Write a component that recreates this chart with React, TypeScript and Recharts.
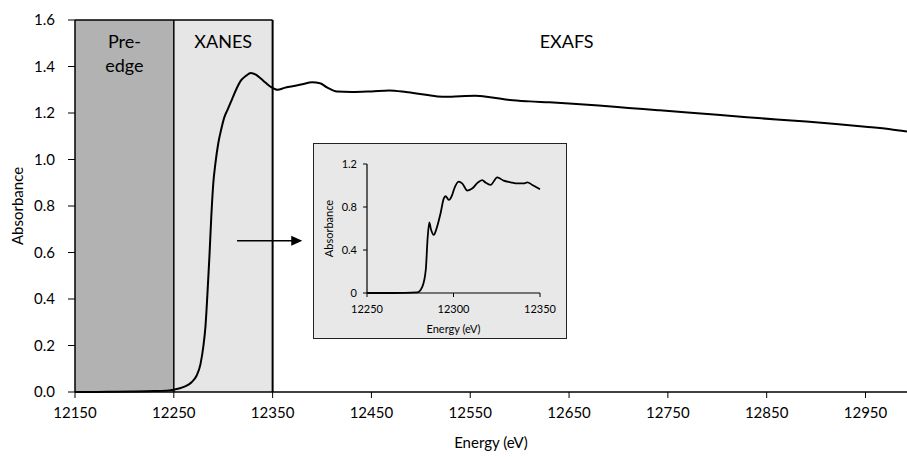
import {
  LineChart,
  Line,
  XAxis,
  YAxis,
  ReferenceArea,
  ReferenceLine,
} from "recharts";

// main spectrum
const mainEnergy = [
  12150, 12170, 12190, 12210, 12230, 12245, 12255, 12262, 12268, 12273,
  12277, 12280, 12282, 12284, 12286, 12288, 12290, 12292, 12295, 12298,
  12301, 12305, 12309, 12313, 12318, 12323, 12328, 12333, 12338, 12343,
  12348, 12355, 12362, 12370, 12380, 12390, 12398, 12405, 12415, 12430,
  12450, 12468, 12485, 12505, 12522, 12540, 12555, 12570, 12590, 12610,
  12630, 12650, 12680, 12710, 12740, 12770, 12800, 12830, 12860, 12890,
  12920, 12950, 12975, 12992,
];
const mainAbs = [
  0.0, 0.0, 0.001, 0.002, 0.004, 0.007, 0.015, 0.025, 0.042, 0.07,
  0.12, 0.2, 0.28, 0.42, 0.58, 0.76, 0.9, 0.98, 1.07, 1.13,
  1.18, 1.22, 1.26, 1.3, 1.34, 1.36, 1.372, 1.365, 1.348, 1.33,
  1.313, 1.3, 1.308, 1.315, 1.324, 1.332, 1.328, 1.31, 1.292, 1.29,
  1.293, 1.297, 1.29, 1.278, 1.27, 1.272, 1.274, 1.268, 1.256, 1.25,
  1.246, 1.241, 1.232, 1.222, 1.212, 1.202, 1.192, 1.182, 1.172, 1.163,
  1.153, 1.141, 1.13, 1.12,
];
const mainTicksX = [12150, 12250, 12350, 12450, 12550, 12650, 12750, 12850, 12950];
const mainTicksY = [0, 0.2, 0.4, 0.6, 0.8, 1.0, 1.2, 1.4, 1.6];

// inset (XANES close-up)
const insetEnergy = [
  12250, 12265, 12279, 12282, 12284, 12285, 12286, 12287, 12288.6, 12290,
  12292.5, 12294.4, 12295.4, 12297.3, 12299.2, 12300.2, 12303, 12305, 12308, 12311,
  12314, 12316.6, 12318.5, 12321.4, 12325.3, 12329, 12333, 12336, 12341, 12342.7,
  12345.6, 12350,
];
const insetAbs = [
  0, 0, 0.005, 0.06, 0.22, 0.5, 0.656, 0.59, 0.54, 0.59,
  0.74, 0.88, 0.9, 0.866, 0.91, 0.96, 1.036, 1.02, 0.953, 0.974,
  1.027, 1.05, 1.027, 1.005, 1.076, 1.045, 1.03, 1.02, 1.02, 1.03,
  1.005, 0.965,
];
const insetTicksX = [12250, 12300, 12350];
const insetTicksY = [0, 0.4, 0.8, 1.2];

const mainData = mainEnergy.map((e, i) => ({ e, a: mainAbs[i] }));
const insetData = insetEnergy.map((e, i) => ({ e, a: insetAbs[i] }));

const FONT = "Lato, 'Open Sans', sans-serif";

const regionLabel = (lines: string[]) => (props: any) => {
  const vb = props.viewBox;
  const cx = vb.x + vb.width / 2;
  return (
    <text x={cx} y={vb.y + 28} textAnchor="middle" fontSize={18} fill="#000">
      {lines.map((l, i) => (
        <tspan key={i} x={cx} dy={i === 0 ? 0 : 23.5}>
          {l}
        </tspan>
      ))}
    </text>
  );
};

const arrowShape = (p: any) => {
  const { x1, y1, x2, y2 } = p;
  return (
    <g>
      <line x1={x1} y1={y1} x2={x2 - 8} y2={y2} stroke="#000" strokeWidth={1.5} />
      <polygon points={`${x2},${y2} ${x2 - 11},${y2 - 5} ${x2 - 11},${y2 + 5}`} fill="#000" />
    </g>
  );
};

function Inset() {
  return (
    <div
      style={{
        position: "absolute",
        left: 313,
        top: 143,
        width: 254,
        height: 196,
        boxSizing: "border-box",
        border: "1px solid #222",
        background: "#e8e8e8",
      }}
    >
      <LineChart width={252} height={194} data={insetData} margin={{ top: 20, right: 26, bottom: 0, left: 0 }}>
        <XAxis
          type="number"
          dataKey="e"
          domain={[12250, 12350]}
          ticks={insetTicksX}
          tick={{ fontSize: 11, fill: "#000" }}
          tickSize={4}
          tickMargin={8}
          axisLine={{ stroke: "#000", strokeWidth: 1.2 }}
          tickLine={{ stroke: "#000" }}
          height={45}
          label={{ value: "Energy (eV)", position: "insideBottom", offset: 5, fontSize: 11, fill: "#000" }}
        />
        <YAxis
          type="number"
          domain={[0, 1.2]}
          ticks={insetTicksY}
          tick={{ fontSize: 11, fill: "#000" }}
          tickSize={4}
          tickMargin={6}
          axisLine={{ stroke: "#000", strokeWidth: 1.2 }}
          tickLine={{ stroke: "#000" }}
          width={53}
          label={{
            content: (props: any) => {
              const vb = props.viewBox;
              const x = vb.x + 14;
              const y = vb.y + vb.height / 2;
              return (
                <text x={x} y={y} transform={`rotate(-90 ${x} ${y})`} textAnchor="middle" dominantBaseline="central" fontSize={11} fill="#000">
                  Absorbance
                </text>
              );
            },
          }}
        />
        <Line type="monotone" dataKey="a" stroke="#000" strokeWidth={1.8} dot={false} isAnimationActive={false} />
      </LineChart>
    </div>
  );
}

export default function App() {
  return (
    <div style={{ position: "absolute", left: 0, top: 0, width: 907, height: 457, background: "#fff", fontFamily: FONT }}>
      <LineChart width={907} height={457} data={mainData} margin={{ top: 20, right: 0, bottom: 0, left: 0 }}>
        <ReferenceArea x1={12150} x2={12250} y1={0} y2={1.6} fill="#b2b2b2" fillOpacity={1} stroke="none" label={regionLabel(["Pre-", "edge"])} />
        <ReferenceArea x1={12250} x2={12350} y1={0} y2={1.6} fill="#e6e6e6" fillOpacity={1} stroke="none" label={regionLabel(["XANES"])} />
        <ReferenceArea x1={12350} x2={12945} y1={0} y2={1.6} fillOpacity={0} stroke="none" label={regionLabel(["EXAFS"])} />
        <ReferenceLine x={12250} stroke="#000" strokeWidth={1.5} />
        <ReferenceLine x={12350} stroke="#000" strokeWidth={2} />
        <ReferenceLine segment={[{ x: 12150, y: 1.6 }, { x: 12350, y: 1.6 }]} stroke="#000" strokeWidth={1.5} />
        <XAxis
          type="number"
          dataKey="e"
          domain={[12150, 12992]}
          ticks={mainTicksX}
          allowDataOverflow
          tick={{ fontSize: 15, fill: "#000" }}
          tickSize={6}
          tickMargin={9}
          axisLine={{ stroke: "#000", strokeWidth: 1.5 }}
          tickLine={{ stroke: "#000" }}
          height={65}
          label={{ value: "Energy (eV)", position: "insideBottom", offset: 9, fontSize: 15, fill: "#000" }}
        />
        <YAxis
          type="number"
          domain={[0, 1.6]}
          ticks={mainTicksY}
          tickFormatter={(v: number) => v.toFixed(1)}
          tick={{ fontSize: 15, fill: "#000" }}
          tickSize={7}
          tickMargin={13}
          axisLine={{ stroke: "#000", strokeWidth: 1.5 }}
          tickLine={{ stroke: "#000" }}
          width={75}
          label={{
            content: (props: any) => {
              const vb = props.viewBox;
              const x = vb.x + 17;
              const y = vb.y + vb.height / 2;
              return (
                <text x={x} y={y} transform={`rotate(-90 ${x} ${y})`} textAnchor="middle" dominantBaseline="central" fontSize={15} fill="#000">
                  Absorbance
                </text>
              );
            },
          }}
        />
        <Line type="monotone" dataKey="a" stroke="#000" strokeWidth={2} dot={false} isAnimationActive={false} />
        <ReferenceLine segment={[{ x: 12314, y: 0.651 }, { x: 12380, y: 0.651 }]} shape={arrowShape} />
      </LineChart>
      <Inset />
    </div>
  );
}
